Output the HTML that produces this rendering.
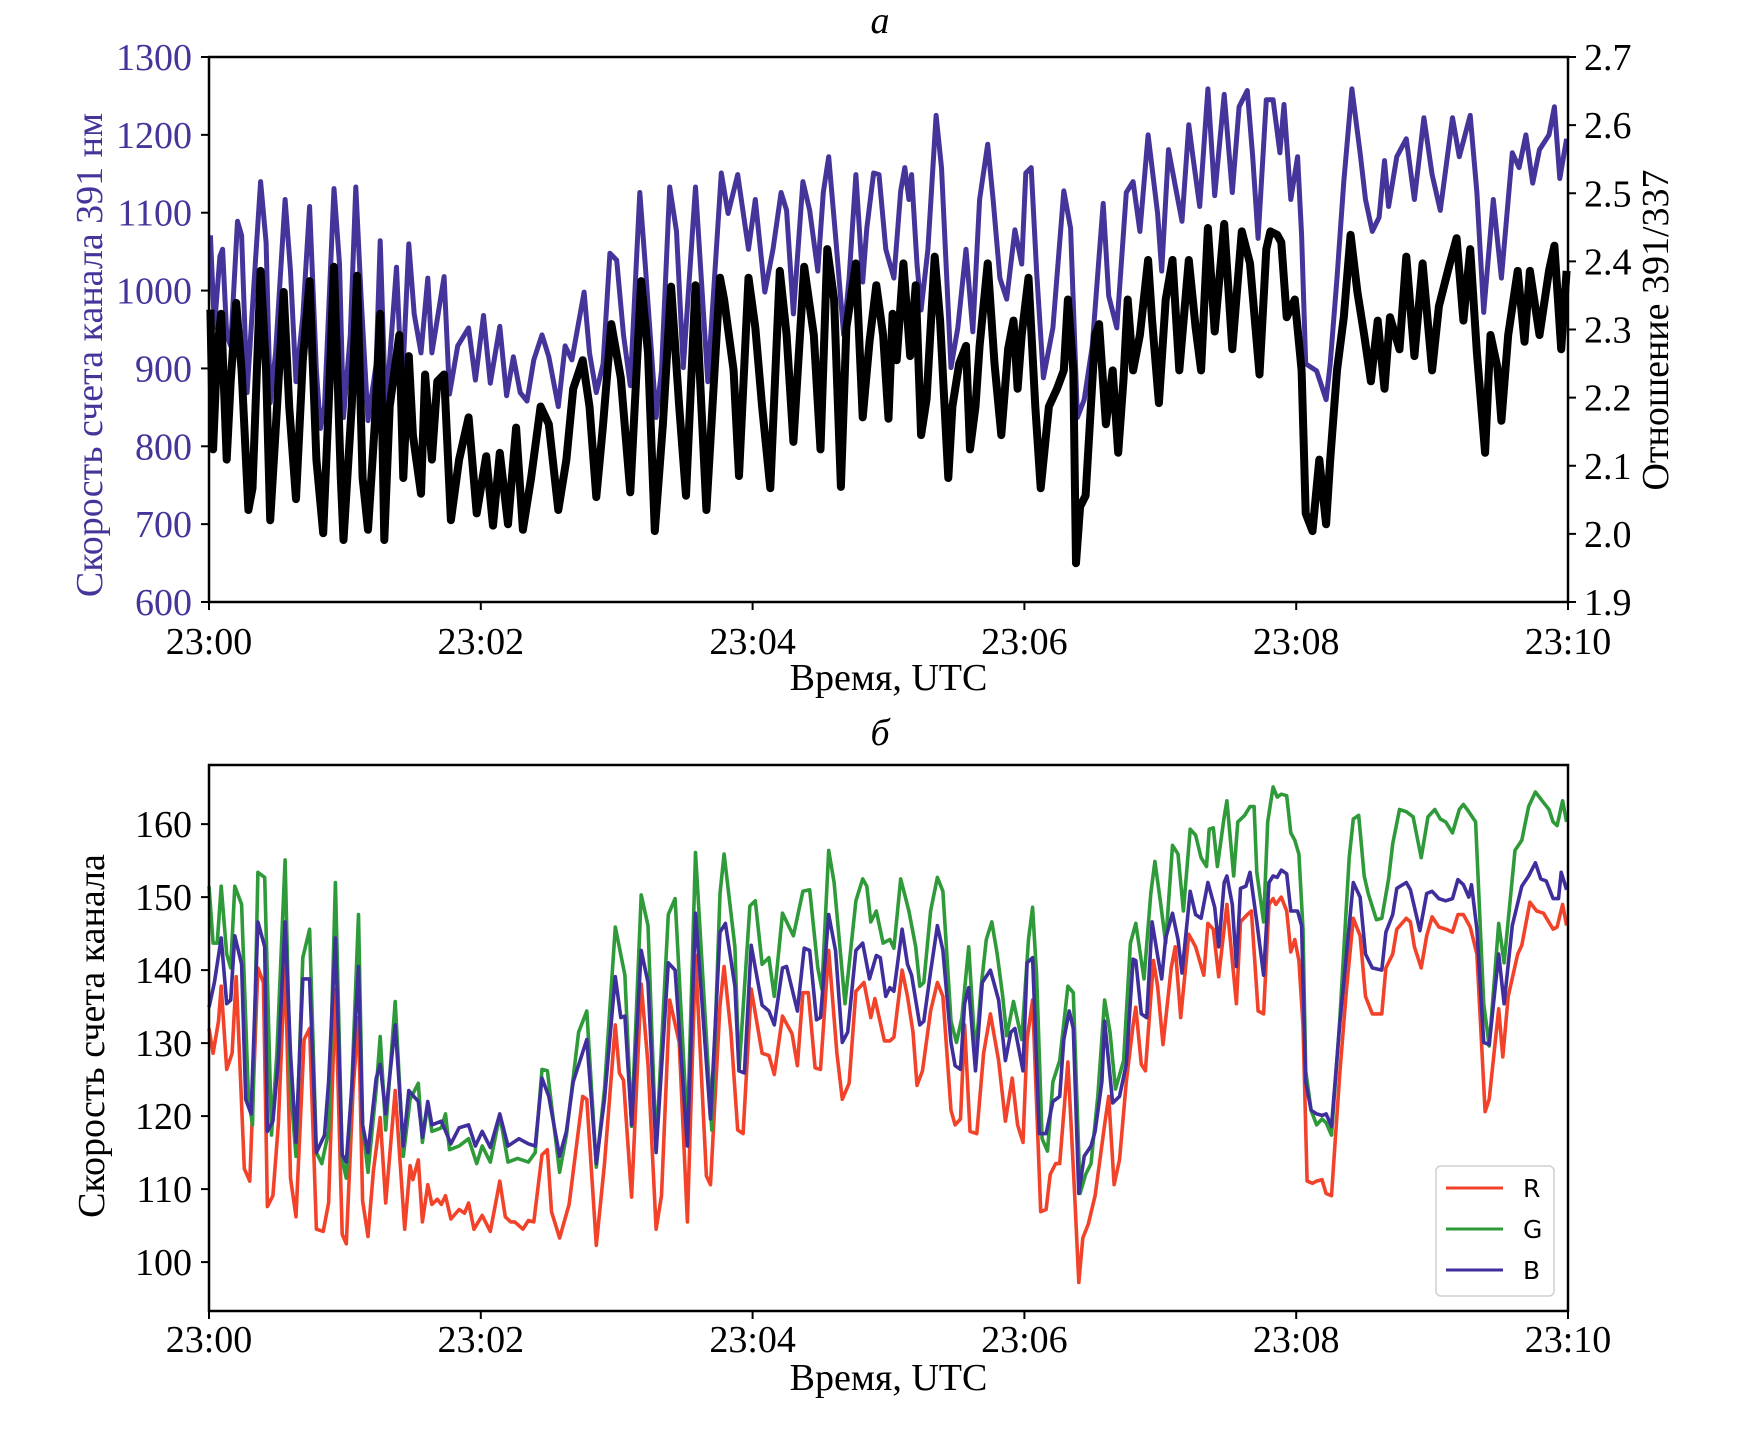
<!DOCTYPE html>
<html><head><meta charset="utf-8"><style>
html,body{margin:0;padding:0;background:#fff;}
svg{display:block;font-family:"Liberation Serif",serif;}
.legend text{font-family:"DejaVu Sans","Liberation Sans",sans-serif;}
</style></head><body>
<svg id="chart" width="1755" height="1433" viewBox="0 0 1755 1433" xmlns="http://www.w3.org/2000/svg">
<rect width="1755" height="1433" fill="#fff"/>
<text x="880" y="33" font-size="38" font-style="italic" text-anchor="middle">а</text>
<text x="880" y="745" font-size="38" font-style="italic" text-anchor="middle">б</text>
<g id="topPanel"></g><g id="botPanel"></g>
</svg>
<script>
// ---- Panel a data ----
const blueT=[0.01,0.04,0.08,0.10,0.13,0.16,0.21,0.24,0.28,0.32,0.38,0.42,0.45,0.49,0.56,0.60,0.64,0.69,0.74,0.79,0.82,0.85,0.92,0.96,0.99,1.04,1.08,1.12,1.17,1.23,1.26,1.30,1.38,1.42,1.47,1.51,1.56,1.61,1.64,1.73,1.77,1.83,1.91,1.96,2.02,2.07,2.14,2.19,2.24,2.29,2.34,2.39,2.45,2.50,2.57,2.62,2.67,2.76,2.80,2.85,2.90,2.95,3.00,3.05,3.10,3.17,3.21,3.29,3.33,3.39,3.44,3.49,3.58,3.67,3.77,3.82,3.89,3.97,4.02,4.09,4.15,4.21,4.25,4.30,4.37,4.42,4.48,4.52,4.56,4.61,4.67,4.71,4.76,4.81,4.84,4.89,4.93,4.98,5.04,5.09,
5.12,5.15,5.17,5.21,5.24,5.29,5.35,5.39,5.46,5.51,5.57,5.62,5.67,5.73,5.77,5.82,5.87,5.93,5.98,6.01,6.05,6.09,6.14,6.21,6.29,6.34,6.39,6.44,6.50,6.55,6.58,6.62,6.68,6.75,6.80,6.85,6.91,6.98,7.01,7.06,7.11,7.16,7.21,7.24,7.29,7.35,7.40,7.47,7.53,7.58,7.64,7.68,7.72,7.78,7.83,7.88,7.91,7.96,8.01,8.04,8.07,8.15,8.22,8.25,8.30,8.35,8.41,8.47,8.51,8.56,8.61,8.65,8.68,8.74,8.81,8.87,8.94,9.00,9.06,9.15,9.20,9.28,9.33,9.38,9.45,9.51,9.59,9.64,9.69,9.74,9.79,9.86,9.90,9.94,9.99];
const blueV=[1071,952,1044,1053,943,929,1089,1071,869,979,1140,1062,856,920,1117,1025,883,966,1108,897,823,851,1131,1034,837,943,1133,989,833,906,1064,842,1030,869,1060,970,920,1016,920,1018,867,929,952,885,968,881,954,865,915,869,858,911,943,915,851,929,911,998,920,869,906,1048,1039,943,878,1126,1034,837,897,1133,1076,901,1133,883,1151,1099,1149,1053,1117,998,1053,1126,1103,970,1140,1103,1025,1126,1172,1071,943,1016,1149,1011,1080,1151,1149,1053,1016,1128,
1158,1117,1149,1034,975,1053,1225,1158,901,952,1053,947,1117,1188,1117,1016,989,1078,1034,1151,1158,1025,888,952,1128,1080,837,860,929,1044,1112,993,952,1126,1140,1076,1200,1099,1025,1181,1135,1089,1213,1172,1108,1259,1122,1252,1126,1236,1257,1172,1067,1245,1245,1177,1239,1117,1172,1071,906,897,860,906,1016,1140,1259,1177,1117,1076,1094,1167,1108,1172,1195,1117,1222,1149,1103,1222,1172,1225,1126,972,1117,1016,1177,1158,1200,1138,1181,1200,1236,1144,1195];
const ratioT=[0.01,0.03,0.06,0.09,0.13,0.16,0.20,0.24,0.29,0.32,0.38,0.42,0.45,0.49,0.55,0.59,0.64,0.69,0.74,0.79,0.84,0.88,0.92,0.97,0.99,1.05,1.09,1.13,1.17,1.22,1.26,1.29,1.33,1.40,1.43,1.47,1.50,1.56,1.59,1.64,1.68,1.73,1.78,1.84,1.91,1.97,2.04,2.09,2.14,2.20,2.26,2.31,2.37,2.44,2.50,2.57,2.63,2.68,2.75,2.80,2.85,2.90,2.96,3.03,3.10,3.18,3.23,3.28,3.34,3.40,3.46,3.51,3.58,3.66,3.76,3.79,3.86,3.90,3.97,4.02,4.07,4.13,4.20,4.25,4.30,4.38,4.45,4.50,4.55,4.60,4.65,4.69,4.76,4.81,4.86,4.91,4.96,5.00,
5.03,5.06,5.11,5.16,5.20,5.24,5.28,5.34,5.38,5.44,5.47,5.52,5.57,5.60,5.64,5.67,5.73,5.78,5.83,5.88,5.92,5.95,5.98,6.03,6.08,6.12,6.18,6.24,6.29,6.32,6.36,6.38,6.41,6.45,6.52,6.55,6.60,6.65,6.69,6.73,6.76,6.80,6.85,6.91,6.94,6.99,7.04,7.09,7.14,7.21,7.26,7.30,7.35,7.40,7.47,7.53,7.60,7.66,7.73,7.78,7.81,7.86,7.89,7.93,7.99,8.04,8.07,8.12,8.17,8.22,8.25,8.30,8.35,8.40,8.45,8.50,8.55,8.60,8.65,8.69,8.76,8.81,8.87,8.93,9.00,9.05,9.13,9.18,9.23,9.28,9.33,9.39,9.43,9.48,9.51,9.56,9.63,9.68,9.72,9.79,9.86,9.90,9.95,9.99];
const ratioV=[2.329,2.124,2.271,2.323,2.109,2.224,2.339,2.240,2.035,2.067,2.386,2.240,2.020,2.151,2.355,2.187,2.051,2.255,2.371,2.109,2.001,2.187,2.392,2.082,1.991,2.187,2.379,2.082,2.006,2.161,2.323,1.991,2.187,2.292,2.082,2.261,2.145,2.059,2.234,2.109,2.224,2.234,2.020,2.109,2.171,2.030,2.114,2.012,2.119,2.014,2.156,2.006,2.082,2.187,2.161,2.035,2.109,2.213,2.255,2.187,2.054,2.161,2.308,2.229,2.061,2.371,2.266,2.004,2.161,2.363,2.187,2.056,2.365,2.035,2.376,2.344,2.240,2.085,2.376,2.303,2.187,2.067,2.386,2.292,2.135,2.392,2.292,2.124,2.418,2.344,2.069,2.303,2.397,2.171,2.282,2.365,2.292,2.169,
2.323,2.255,2.397,2.261,2.365,2.145,2.198,2.407,2.313,2.082,2.187,2.250,2.276,2.124,2.187,2.276,2.397,2.250,2.145,2.271,2.313,2.213,2.292,2.376,2.187,2.067,2.187,2.213,2.240,2.344,2.240,1.957,2.040,2.056,2.292,2.308,2.161,2.240,2.119,2.229,2.344,2.240,2.292,2.402,2.313,2.192,2.344,2.402,2.240,2.402,2.303,2.240,2.449,2.297,2.455,2.271,2.444,2.397,2.234,2.418,2.444,2.439,2.428,2.318,2.344,2.240,2.030,2.004,2.109,2.014,2.109,2.240,2.318,2.439,2.355,2.292,2.224,2.313,2.213,2.318,2.271,2.407,2.261,2.397,2.240,2.334,2.397,2.434,2.313,2.418,2.266,2.119,2.292,2.245,2.166,2.292,2.386,2.282,2.386,2.292,2.386,2.423,2.271,2.386];
const xTickLabels=["23:00","23:02","23:04","23:06","23:08","23:10"];
const xTickVals=[0,2,4,6,8,10];
const leftTicks=[600,700,800,900,1000,1100,1200,1300];
const rightTicks=[1.9,2.0,2.1,2.2,2.3,2.4,2.5,2.6,2.7];
const rgbTicks=[100,110,120,130,140,150,160];
// ---- Panel b data ----
const gT=[0,.03,.06,.09,.13,.16,.19,.24,.29,.32,.36,.41,.46,.50,.56,.60,.64,.69,.74,.79,.83,.88,.93,.98,1.01,1.05,1.10,1.13,1.17,1.23,1.26,1.30,1.37,1.43,1.48,1.54,1.57,1.61,1.64,1.71,1.74,1.77,1.84,1.91,1.97,2.01,2.07,2.14,2.20,2.27,2.35,2.40,2.45,2.49,2.58,2.63,2.72,2.78,2.85,2.91,2.99,3.06,3.11,3.18,3.23,3.29,3.38,3.43,3.52,3.58,3.70,3.76,3.79,3.87,3.90,3.98,4.02,4.07,4.12,4.16,4.22,4.30,4.37,4.42,4.48,4.51,4.56,4.60,4.68,4.76,4.81,4.84,4.87,4.91,4.96,5.01,5.04,5.09,
5.15,5.20,5.23,5.26,5.31,5.36,5.40,5.46,5.50,5.54,5.59,5.64,5.68,5.72,5.76,5.80,5.84,5.87,5.92,5.98,6.03,6.06,6.09,6.13,6.17,6.21,6.26,6.32,6.36,6.41,6.45,6.49,6.54,6.59,6.63,6.67,6.73,6.78,6.82,6.88,6.93,6.96,7.00,7.04,7.09,7.13,7.17,7.22,7.26,7.30,7.34,7.36,7.39,7.42,7.47,7.49,7.54,7.57,7.62,7.66,7.69,7.71,7.76,7.79,7.83,7.86,7.89,7.93,7.96,7.99,8.02,8.05,8.07,8.11,8.15,8.19,8.22,8.26,8.32,8.39,8.42,8.46,8.50,8.53,8.59,8.63,8.68,8.71,8.76,8.81,8.86,8.92,8.97,9.02,9.06,9.10,9.15,9.20,9.23,9.27,9.32,9.38,9.42,9.49,9.53,9.61,9.66,9.71,9.76,9.81,9.86,9.89,9.92,9.96,9.99];
const gV=[151.5,143.7,143.7,151.5,142.2,140.3,151.5,149.0,122.7,118.8,153.4,152.7,117.4,128.6,155.1,123.7,114.5,141.7,145.6,115.0,113.5,117.9,152.0,114.0,111.5,123.7,147.6,118.8,112.3,123.7,130.9,118.1,135.7,114.5,122.3,124.5,116.4,121.8,117.9,118.4,120.3,115.4,115.9,116.9,113.5,115.9,113.7,120.1,113.7,114.2,113.7,115.0,126.4,126.2,112.3,117.4,131.5,134.4,113.0,123.7,145.9,139.3,118.6,150.3,146.1,115.4,147.6,149.8,117.9,156.1,118.1,150.5,155.9,143.2,126.2,148.8,149.5,140.8,141.7,136.4,147.8,144.7,150.8,151.0,140.3,137.4,156.4,152.0,135.4,149.5,152.5,151.5,146.6,148.1,143.7,144.2,143.0,152.5,
148.1,143.2,137.8,138.3,148.1,152.7,150.8,133.0,130.1,133.5,143.2,128.1,137.4,144.2,146.6,142.2,136.4,131.0,135.7,130.5,144.2,148.6,139.3,116.9,115.2,124.7,127.6,137.8,136.9,109.4,112.0,113.5,122.7,135.9,131.5,123.7,127.6,143.7,146.4,138.8,150.5,154.9,149.5,143.7,157.1,155.9,148.1,159.3,158.5,155.4,154.2,159.3,159.5,154.2,161.0,163.2,152.9,160.3,161.2,162.4,162.4,153.4,146.6,160.3,165.1,163.7,164.1,163.9,158.8,157.8,155.9,145.6,126.2,120.8,118.8,119.6,119.1,117.4,133.0,155.4,160.7,161.2,152.9,150.5,146.9,147.1,152.5,157.3,162.0,161.7,161.0,155.4,161.0,162.0,160.7,160.3,158.8,162.0,162.7,161.7,160.3,135.4,129.6,146.4,141.0,156.4,157.8,162.4,164.4,163.2,162.0,160.3,159.8,163.2,160.3];
const bT=[0,.04,.09,.13,.16,.19,.24,.27,.31,.36,.41,.43,.47,.51,.56,.60,.64,.69,.74,.79,.85,.88,.93,.98,1.01,1.05,1.10,1.13,1.17,1.23,1.26,1.30,1.37,1.43,1.47,1.54,1.57,1.61,1.64,1.71,1.78,1.84,1.91,1.96,2.01,2.07,2.14,2.20,2.28,2.35,2.40,2.45,2.50,2.58,2.63,2.68,2.78,2.85,2.91,2.99,3.03,3.06,3.11,3.18,3.23,3.29,3.38,3.43,3.52,3.58,3.69,3.76,3.80,3.87,3.90,3.94,3.99,4.07,4.12,4.16,4.22,4.25,4.33,4.38,4.42,4.47,4.50,4.56,4.61,4.66,4.70,4.76,4.81,4.86,4.91,4.94,4.98,5.01,5.04,5.10,
5.14,5.17,5.23,5.26,5.31,5.36,5.40,5.46,5.49,5.53,5.56,5.59,5.64,5.69,5.75,5.81,5.86,5.90,5.93,5.99,6.02,6.06,6.11,6.16,6.21,6.26,6.29,6.33,6.36,6.40,6.44,6.49,6.52,6.57,6.59,6.65,6.70,6.75,6.80,6.82,6.86,6.90,6.94,6.98,7.01,7.04,7.09,7.13,7.16,7.22,7.26,7.30,7.35,7.40,7.43,7.47,7.49,7.53,7.56,7.59,7.63,7.66,7.71,7.76,7.80,7.83,7.86,7.89,7.93,7.96,8.01,8.04,8.07,8.11,8.15,8.19,8.22,8.26,8.32,8.42,8.47,8.51,8.56,8.63,8.66,8.71,8.74,8.81,8.84,8.91,8.96,9.00,9.05,9.10,9.15,9.19,9.23,9.27,9.29,9.33,9.38,9.42,9.49,9.53,9.59,9.66,9.71,9.76,9.80,9.84,9.89,9.93,9.95,9.99];
const bV=[134.9,138.3,144.4,135.4,135.9,144.7,140.8,122.3,120.3,146.6,143.2,117.9,119.3,127.6,146.6,128.6,116.4,138.8,138.8,115.0,117.4,124.7,144.4,114.7,113.7,123.7,140.5,118.8,115.0,125.2,127.1,120.3,132.5,115.9,123.5,122.0,117.1,122.0,118.8,119.3,116.2,118.4,118.8,115.9,117.9,115.7,120.3,115.9,116.9,116.2,115.9,125.2,122.7,114.5,117.9,124.7,130.5,113.5,122.3,139.1,133.5,133.7,118.8,142.7,138.3,115.0,141.0,140.0,115.9,147.8,119.6,145.2,146.4,137.8,126.2,125.9,143.4,135.2,134.4,132.5,140.3,140.5,134.4,143.0,142.7,133.2,133.5,147.6,142.7,130.1,131.5,142.7,143.7,138.8,142.0,141.7,136.4,137.6,137.1,145.6,
140.8,139.3,132.5,133.0,139.8,146.1,142.7,130.1,126.9,126.4,135.4,137.6,126.2,138.3,140.0,135.9,127.6,131.5,132.0,126.2,141.0,141.7,117.6,117.6,122.0,122.7,130.5,134.4,132.0,109.4,114.5,115.9,117.9,124.7,133.0,121.8,122.7,127.1,141.5,141.3,134.0,133.5,146.6,142.0,138.8,144.4,147.8,144.2,139.6,150.8,147.6,147.1,152.0,148.6,143.2,152.0,152.9,149.0,140.5,151.2,151.5,153.4,146.6,139.3,152.0,152.9,152.7,153.7,153.2,148.1,148.1,146.1,124.7,120.8,120.3,120.1,120.3,118.6,132.5,152.0,150.0,142.2,140.3,140.0,145.2,147.6,151.2,152.0,151.0,145.4,150.5,150.8,149.8,149.5,149.8,152.4,151.7,150.0,151.7,145.6,130.1,129.8,142.2,135.4,146.1,151.5,152.9,154.7,152.5,152.2,149.8,149.8,153.4,151.0];
const rT=[0,.03,.07,.09,.13,.17,.20,.26,.30,.36,.40,.43,.47,.51,.56,.60,.64,.70,.74,.79,.84,.88,.93,.98,1.01,1.06,1.10,1.13,1.17,1.21,1.26,1.30,1.37,1.44,1.48,1.50,1.54,1.57,1.61,1.64,1.68,1.71,1.74,1.78,1.84,1.88,1.91,1.95,2.01,2.07,2.14,2.18,2.22,2.25,2.31,2.35,2.39,2.45,2.49,2.52,2.58,2.65,2.75,2.78,2.85,2.91,2.99,3.02,3.05,3.11,3.18,3.23,3.29,3.33,3.39,3.46,3.52,3.58,3.66,3.69,3.76,3.79,3.84,3.89,3.93,3.99,4.07,4.12,4.16,4.22,4.29,4.33,4.37,4.41,4.46,4.50,4.56,4.62,4.66,4.71,4.76,4.82,4.87,4.90,4.97,5.01,5.04,5.10,
5.14,5.18,5.21,5.25,5.31,5.36,5.40,5.46,5.49,5.53,5.56,5.60,5.65,5.70,5.75,5.81,5.86,5.91,5.95,5.99,6.02,6.06,6.12,6.16,6.19,6.23,6.26,6.32,6.37,6.40,6.43,6.47,6.52,6.59,6.62,6.66,6.70,6.75,6.80,6.82,6.86,6.89,6.95,6.98,7.02,7.08,7.11,7.15,7.21,7.26,7.32,7.35,7.39,7.43,7.49,7.52,7.56,7.59,7.64,7.67,7.72,7.76,7.80,7.83,7.85,7.89,7.93,7.96,7.99,8.02,8.05,8.08,8.12,8.15,8.19,8.22,8.26,8.32,8.37,8.42,8.47,8.51,8.56,8.63,8.66,8.71,8.74,8.81,8.84,8.87,8.92,8.96,9.00,9.05,9.10,9.15,9.19,9.23,9.28,9.33,9.39,9.42,9.49,9.52,9.56,9.63,9.66,9.72,9.77,9.82,9.89,9.92,9.96,9.99];
const rV=[132.0,128.6,133.0,137.8,126.4,128.6,139.1,112.8,111.1,140.3,138.3,107.6,109.1,118.8,141.3,111.5,106.2,130.5,132.0,104.5,104.2,108.1,137.4,103.8,102.5,123.7,133.5,108.4,103.5,112.5,119.8,108.1,123.5,104.5,113.2,111.3,114.0,105.5,110.6,107.9,108.6,107.9,109.1,105.9,107.2,106.7,108.1,104.5,106.4,104.2,111.1,106.2,105.5,105.5,104.5,105.7,105.5,114.7,115.4,106.9,103.3,107.9,122.7,122.3,102.3,113.5,132.5,125.9,124.9,108.9,138.1,127.1,104.5,109.1,135.9,130.1,105.5,142.0,111.8,110.6,135.2,140.5,131.5,118.1,117.6,137.4,128.6,128.3,125.7,133.7,131.3,126.9,136.9,136.9,126.6,126.4,142.7,128.6,122.3,124.5,137.1,138.3,133.5,136.1,130.3,130.3,130.8,140.0,
136.4,131.5,124.2,126.2,134.4,138.3,136.4,120.8,118.8,119.6,132.5,117.9,117.6,128.6,134.0,127.6,119.3,125.2,118.8,116.4,130.5,135.9,106.9,107.2,112.0,113.5,113.5,127.4,109.1,97.2,103.3,105.2,109.1,118.8,122.7,110.6,114.0,124.7,132.5,134.9,127.1,126.2,141.3,137.8,129.8,140.3,143.2,133.5,144.9,143.2,139.3,146.4,145.6,139.1,149.0,143.2,135.4,146.6,147.6,148.1,134.4,134.0,149.0,149.8,149.0,150.0,148.1,142.5,144.2,141.3,132.5,111.1,110.8,111.1,111.3,109.4,109.1,125.7,137.4,147.1,144.7,136.4,134.0,134.0,140.3,142.2,145.6,147.1,146.6,143.2,140.3,144.7,147.3,145.9,145.6,145.2,147.6,147.6,145.9,142.2,120.6,122.3,134.7,128.1,136.4,142.2,143.4,149.3,148.1,147.8,145.6,145.9,149.0,146.1];

const NS="http://www.w3.org/2000/svg";
function mk(tag,attrs,parent){const e=document.createElementNS(NS,tag);for(const k in attrs)e.setAttribute(k,attrs[k]);parent.appendChild(e);return e;}
const FS=38;
const X0=209,X1=1568;
const xs=t=>X0+(X1-X0)*t/10;
const TY0=57,TY1=602;
const yL=v=>TY1-(TY1-TY0)*(v-600)/700;
const yR=v=>TY1-(TY1-TY0)*(v-1.9)/0.8;
const BY0=765,BY1=1311;
const bMin=93.3,bMax=168.1;
const yB=v=>BY1-(BY1-BY0)*(v-bMin)/(bMax-bMin);

function pathD(ts,vs,yf){return ts.map((t,i)=>(i?'L':'M')+xs(t).toFixed(1)+' '+yf(vs[i]).toFixed(1)).join(' ');}

const topG=document.getElementById('topPanel');
const botG=document.getElementById('botPanel');

let p=mk('path',{d:pathD(blueT,blueV,yL),fill:'none',stroke:'#45359a','stroke-width':5,'stroke-linejoin':'round'},topG);


p=mk('path',{d:pathD(ratioT,ratioV,yR),fill:'none',stroke:'#000','stroke-width':8,'stroke-linejoin':'round'},topG);



let f=mk('rect',{x:X0,y:TY0,width:X1-X0,height:TY1-TY0,fill:'none',stroke:'#000','stroke-width':2.5},topG);



function xTicks(parent,yb,name,off){
  xTickVals.forEach((v,i)=>{
    const x=xs(v);
    mk('line',{x1:x,x2:x,y1:yb,y2:yb+8,stroke:'#000','stroke-width':2},parent);
    const t=mk('text',{x:x,y:yb+off,'font-size':FS,'text-anchor':'middle'},parent);
    t.textContent=xTickLabels[i];
    
    
  });
}
xTicks(topG,TY1,'panel-a',52);
leftTicks.forEach(v=>{
  const y=yL(v);
  mk('line',{x1:X0-8,x2:X0,y1:y,y2:y,stroke:'#000','stroke-width':2},topG);
  const t=mk('text',{x:X0-17,y:y+13,'font-size':FS,'text-anchor':'end',fill:'#45359a'},topG);
  t.textContent=v;
  
  
});
rightTicks.forEach(v=>{
  const y=yR(v);
  mk('line',{x1:X1,x2:X1+8,y1:y,y2:y,stroke:'#000','stroke-width':2},topG);
  const t=mk('text',{x:X1+16,y:y+13,'font-size':FS,'text-anchor':'start'},topG);
  t.textContent=v.toFixed(1);
  
  
});
let lab=mk('text',{x:0,y:0,'font-size':FS,'text-anchor':'middle',fill:'#45359a',transform:'translate(102,355) rotate(-90)'},topG);
lab.textContent='Скорость счета канала 391 нм';


lab=mk('text',{x:0,y:0,'font-size':FS,'text-anchor':'middle',transform:'translate(1668,330) rotate(-90)'},topG);
lab.textContent='Отношение 391/337';


lab=mk('text',{x:(X0+X1)/2,y:690,'font-size':FS,'text-anchor':'middle'},topG);
lab.textContent='Время, UTC';



const series=[[rT,rV,'#f2432a','r-line'],[gT,gV,'#2f9a3a','g-line'],[bT,bV,'#3f2f9c','b-line']];
series.forEach(s=>{
  const e=mk('path',{d:pathD(s[0],s[1],yB),fill:'none',stroke:s[2],'stroke-width':3.6,'stroke-linejoin':'round'},botG);
  
  
});
f=mk('rect',{x:X0,y:BY0,width:X1-X0,height:BY1-BY0,fill:'none',stroke:'#000','stroke-width':2.5},botG);


xTicks(botG,BY1,'panel-b',41);
rgbTicks.forEach(v=>{
  const y=yB(v);
  mk('line',{x1:X0-8,x2:X0,y1:y,y2:y,stroke:'#000','stroke-width':2},botG);
  const t=mk('text',{x:X0-17,y:y+13,'font-size':FS,'text-anchor':'end'},botG);
  t.textContent=v;
  
  
});
lab=mk('text',{x:0,y:0,'font-size':FS,'text-anchor':'middle',transform:'translate(104,1036) rotate(-90)'},botG);
lab.textContent='Скорость счета канала';


lab=mk('text',{x:(X0+X1)/2,y:1390,'font-size':FS,'text-anchor':'middle'},botG);
lab.textContent='Время, UTC';



const lg=mk('g',{class:'legend'},botG);


mk('rect',{x:1436,y:1166,width:118,height:130,rx:5,fill:'#fff',stroke:'#d0d0d0','stroke-width':1.5},lg);
const legNames=['R','G','B'];
const legCols=['#f2432a','#2f9a3a','#3f2f9c'];
legNames.forEach((n,i)=>{
  const y=1188+i*41;
  const ln=mk('line',{x1:1446,x2:1503,y1:y,y2:y,stroke:legCols[i],'stroke-width':3},lg);
  
  
  const t=mk('text',{x:1523,y:y+9,'font-size':25},lg);
  t.textContent=n;
  
  
});
</script>
</body></html>
